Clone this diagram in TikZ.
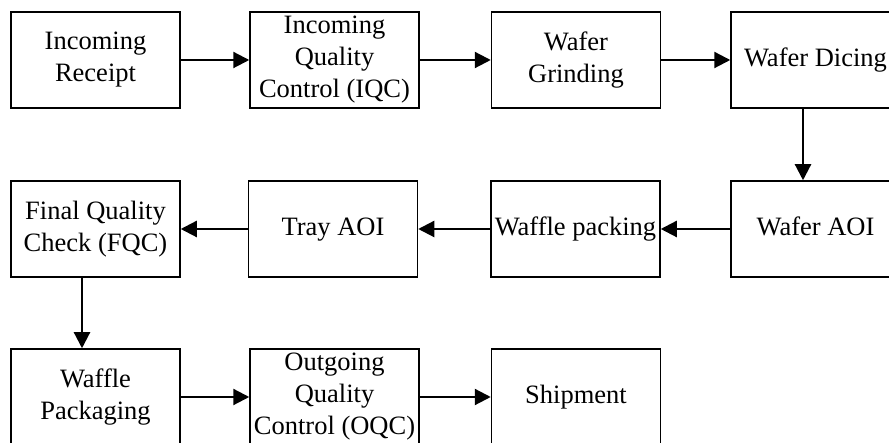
\documentclass[tikz,border=0pt]{standalone}
\usepackage{fontspec}
\setmainfont{Liberation Serif}
\usetikzlibrary{arrows.meta}
\begin{document}
\begin{tikzpicture}[x=1pt,y=1pt,
  stepbox/.style={draw, line width=1.5pt, rectangle, minimum width=169pt,
    minimum height=96pt, inner sep=0pt, align=center,
    font=\fontsize{26.5}{32}\selectfont},
  flow/.style={line width=2.2pt, -{Triangle[length=16pt,width=16pt]}}]
\useasboundingbox (0,0) rectangle (889,443);
% first row
\node[stepbox] (receipt) at (95.5,383) {Incoming\\Receipt};
\node[stepbox] (iqc) at (334.5,383) {Incoming\\Quality\\Control (IQC)};
\node[stepbox] (grind) at (576,383) {Wafer\\Grinding};
\node[stepbox] (dice) at (815.5,383) {\strut Wafer Dicing};
% second row
\node[stepbox] (fqc) at (95.5,214) {Final Quality\\Check (FQC)};
\node[stepbox] (tray) at (333,214) {\strut Tray AOI};
\node[stepbox] (wpack) at (575.5,214) {\strut Waffle packing};
\node[stepbox] (waoi) at (815.5,214) {\strut Wafer AOI};
% third row
\node[stepbox] (wpkg) at (95.5,46) {Waffle\\Packaging};
\node[stepbox] (oqc) at (334.5,46) {Outgoing\\Quality\\Control (OQC)};
\node[stepbox] (ship) at (576,46) {\strut Shipment};
% connectors
\draw[flow] (receipt.east) -- (iqc.west);
\draw[flow] (iqc.east) -- (grind.west);
\draw[flow] (grind.east) -- (dice.west);
\draw[flow] ([xshift=-12.5pt]dice.south) -- ([xshift=-12.5pt]waoi.north);
\draw[flow] (waoi.west) -- (wpack.east);
\draw[flow] (wpack.west) -- (tray.east);
\draw[flow] (tray.west) -- (fqc.east);
\draw[flow] ([xshift=-13.5pt]fqc.south) -- ([xshift=-13.5pt]wpkg.north);
\draw[flow] (wpkg.east) -- (oqc.west);
\draw[flow] (oqc.east) -- (ship.west);
\end{tikzpicture}
\end{document}
